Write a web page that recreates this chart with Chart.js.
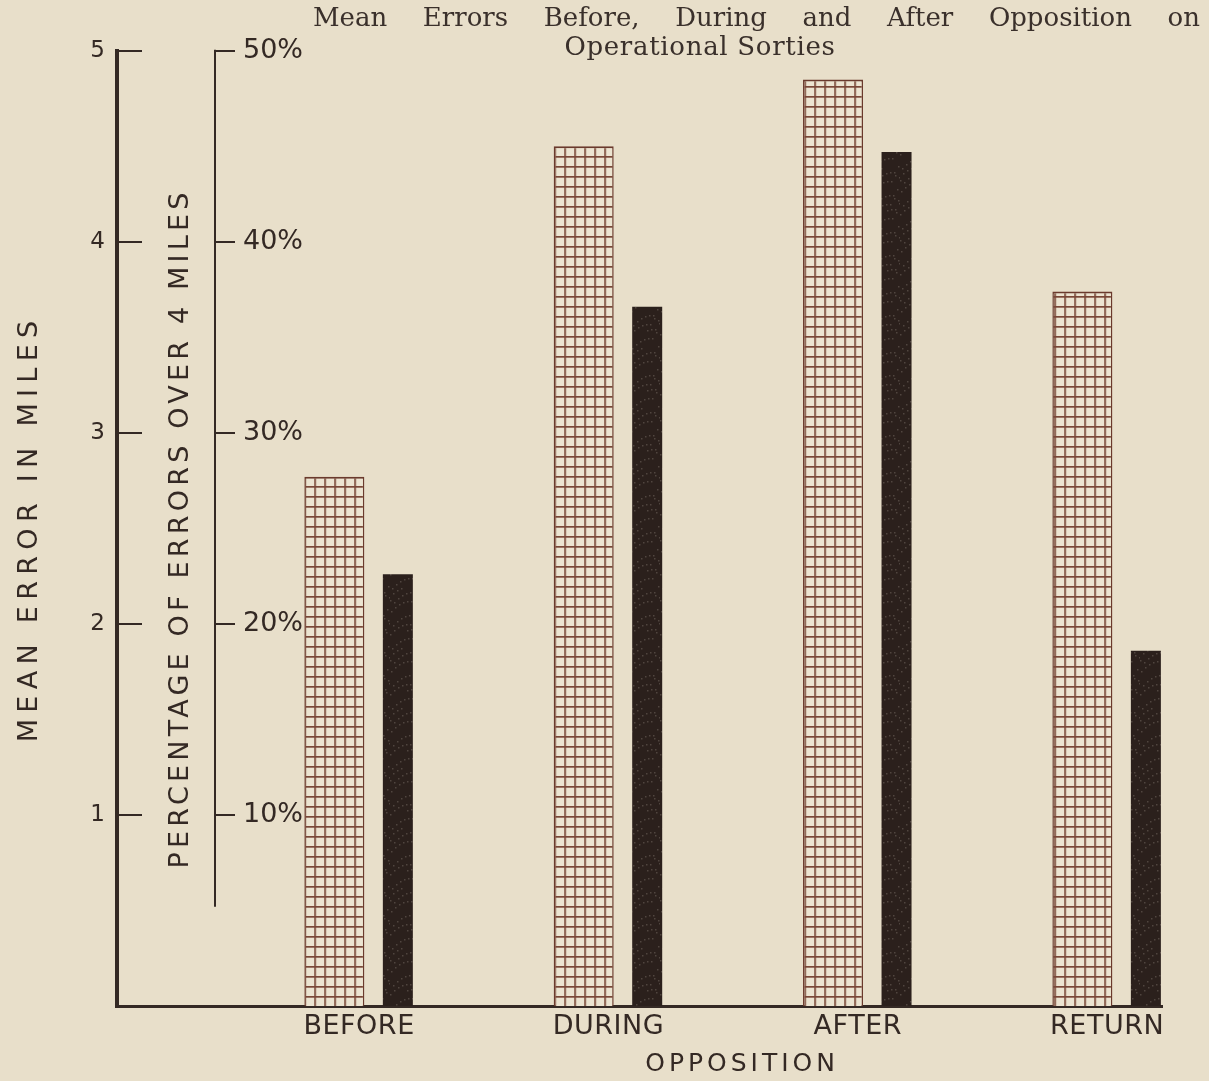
<!DOCTYPE html>
<html>
<head>
<meta charset="utf-8">
<script src="https://cdn.jsdelivr.net/npm/chart.js@4.4.1/dist/chart.umd.min.js"></script>
<style>
html, body { margin: 0; padding: 0; background: #e8dfca; }
#wrap { position: relative; width: 1209px; height: 1081px; overflow: hidden; background: #e8dfca; }
#c { position: absolute; left: 0; top: 0; }
.t { position: absolute; font-family: "DejaVu Serif", "Liberation Serif", serif; color: #3a302b; font-size: 26px; line-height: 30px; }
#t1 { left: 313px; top: 2px; width: 887px; text-align: justify; text-align-last: justify; }
#t2 { left: 550px; top: 31px; width: 300px; text-align: center; letter-spacing: 0.7px; }
</style>
</head>
<body>
<div id="wrap">
  <canvas id="c" width="1209" height="1081"></canvas>
  <div class="t" id="t1">Mean Errors Before, During and After Opposition on</div>
  <div class="t" id="t2">Operational Sorties</div>
</div>
<script>
// ---- data ----
const categories = ['BEFORE', 'DURING', 'AFTER', 'RETURN'];
const meanErrorMiles = [2.77, 4.50, 4.85, 3.74];
const pctErrorsOver4Miles = [22.6, 36.6, 44.7, 18.6];
const milesTicks = [1, 2, 3, 4, 5];
const pctTicks = [10, 20, 30, 40, 50];
const xAxisTitle = 'OPPOSITION';

// ---- styles ----
const INK = '#342924';
const HATCH_LINE = '#7a4838';
const PCT_AXIS_END = 5.2;   // the percentage axis line stops short of the baseline
const canvas = document.getElementById('c');
const ctx = canvas.getContext('2d');

function makeHatch() {
  const c = document.createElement('canvas');
  c.width = 10; c.height = 10;
  const g = c.getContext('2d');
  g.fillStyle = '#ece4d1';
  g.fillRect(0, 0, 10, 10);
  g.fillStyle = HATCH_LINE;
  g.fillRect(0, 0, 10, 1.7);
  g.fillRect(0, 0, 1.7, 10);
  const p = ctx.createPattern(c, 'repeat');
  p.setTransform(new DOMMatrix().translate(4.25, 6));
  return p;
}
function makeSpeckle() {
  const c = document.createElement('canvas');
  c.width = 30; c.height = 60;
  const g = c.getContext('2d');
  g.fillStyle = '#2b201c';
  g.fillRect(0, 0, 30, 60);
  g.fillStyle = 'rgba(150,140,130,0.35)';
  for (let i = 0; i < 45; i++) {
    const x = (i * 17) % 30;
    const y = (i * 29 + (i * i) % 7) % 60;
    g.fillRect(x, y, 1.5, 1.5);
  }
  return ctx.createPattern(c, 'repeat');
}

const spacing = {
  x: { title: '4px', labels: '0.5px' },
  y: { title: '6.3px', labels: '0px' },
  y2: { title: '4.2px', labels: '0px' }
};
const spacingPlugin = {
  id: 'letterSpacing',
  beforeDraw(chart) {
    Object.values(chart.scales).forEach(s => {
      const cfg = spacing[s.id];
      if (!cfg || s._lsWrapped) return;
      const dt = s.drawTitle, dl = s.drawLabels;
      s.drawTitle = function (...a) {
        const c = this.ctx, old = c.letterSpacing;
        c.letterSpacing = cfg.title; dt.apply(this, a); c.letterSpacing = old;
      };
      s.drawLabels = function (...a) {
        const c = this.ctx, old = c.letterSpacing;
        c.letterSpacing = cfg.labels; dl.apply(this, a); c.letterSpacing = old;
      };
      s._lsWrapped = true;
    });
  }
};
const axisLinesPlugin = {
  id: 'axisLines',
  afterDraw(chart) {
    const x = chart.scales.x, y = chart.scales.y, y2 = chart.scales.y2;
    const c = chart.ctx;
    c.save();
    c.strokeStyle = INK;
    // baseline segment between the two vertical axes (aligned like the x border)
    const py = Math.round(y.getPixelForValue(0) - 1.5) + 1.5;
    c.lineWidth = 3;
    c.beginPath();
    c.moveTo(y.right - 2, py);
    c.lineTo(chart.chartArea.left + 2, py);
    c.stroke();
    // percentage axis line
    const px = Math.round(y2.right - 1) + 1;
    c.lineWidth = 2;
    c.beginPath();
    c.moveTo(px, y2.getPixelForValue(pctTicks[pctTicks.length - 1]) - 1);
    c.lineTo(px, y2.getPixelForValue(PCT_AXIS_END));
    c.stroke();
    // x-axis title, centred under the middle of the category groups
    c.fillStyle = INK;
    c.font = '25px "DejaVu Sans"';
    c.letterSpacing = spacing.x.title;
    c.textAlign = 'center';
    c.textBaseline = 'middle';
    c.fillText(xAxisTitle, x.getPixelForValue((categories.length - 1) / 2) + 2, x.bottom - 17);
    c.restore();
  }
};

const font = (size) => ({ family: 'DejaVu Sans', size: size });

new Chart(ctx, {
  type: 'bar',
  data: {
    datasets: [
      {
        label: 'Mean error in miles',
        data: categories.map((c, i) => ({ x: i, y: meanErrorMiles[i] })),
        yAxisID: 'y',
        backgroundColor: makeHatch(),
        borderColor: '#6a3a2d',
        borderWidth: { left: 1.5, right: 1.5, top: 2, bottom: 0 },
        borderSkipped: 'start',
        categoryPercentage: 0.5094,
        barPercentage: 0.9449
      },
      {
        label: 'Percentage of errors over 4 miles',
        data: categories.map((c, i) => ({ x: i, y: pctErrorsOver4Miles[i] })),
        yAxisID: 'y2',
        backgroundColor: makeSpeckle(),
        borderColor: '#241a17',
        borderWidth: 0,
        categoryPercentage: 0.5094,
        barPercentage: 0.4724
      }
    ]
  },
  options: {
    responsive: false,
    animation: false,
    layout: { padding: { left: 0, right: 47, top: 49, bottom: 0 } },
    plugins: { legend: { display: false }, tooltip: { enabled: false }, title: { display: false } },
    scales: {
      x: {
        type: 'linear',
        position: 'bottom',
        offset: false,
        min: -0.606,
        max: 3.192,
        afterBuildTicks: s => { s.ticks = categories.map((c, i) => ({ value: i })); },
        afterFit: s => { s.height = 75; },
        grid: { display: false, drawTicks: false, offset: false },
        border: { display: true, color: INK, width: 3 },
        ticks: {
          callback: v => categories[v] ?? '',
          font: font(27), color: INK, padding: 5, labelOffset: -7,
          autoSkip: false, maxRotation: 0
        },
        title: { display: false, text: xAxisTitle }
      },
      y: {
        position: 'left',
        weight: 1,
        min: 0,
        max: 5,
        afterBuildTicks: s => { s.ticks = milesTicks.map(v => ({ value: v })); },
        afterFit: s => { s.width = 117; },
        grid: { drawOnChartArea: false, tickLength: -25, color: INK, lineWidth: 2 },
        border: { color: INK, width: 4 },
        ticks: { padding: 37, font: font(23), color: INK },
        title: { display: true, text: 'MEAN ERROR IN MILES', font: font(27), color: INK, padding: { top: 14, bottom: 0 } }
      },
      y2: {
        position: 'left',
        weight: 0,
        min: 0,
        max: 50,
        afterBuildTicks: s => { s.ticks = pctTicks.map(v => ({ value: v })); },
        afterFit: s => { s.width = 98; },
        grid: { drawOnChartArea: false, tickLength: -20, color: INK, lineWidth: 2 },
        border: { display: false },
        ticks: { mirror: true, padding: 28, font: font(27), color: INK, callback: v => v + '%' },
        title: { display: true, text: 'PERCENTAGE OF ERRORS OVER 4 MILES', font: font(27), color: INK, padding: { top: 48, bottom: 0 } }
      }
    }
  },
  plugins: [spacingPlugin, axisLinesPlugin]
});
</script>
</body>
</html>
